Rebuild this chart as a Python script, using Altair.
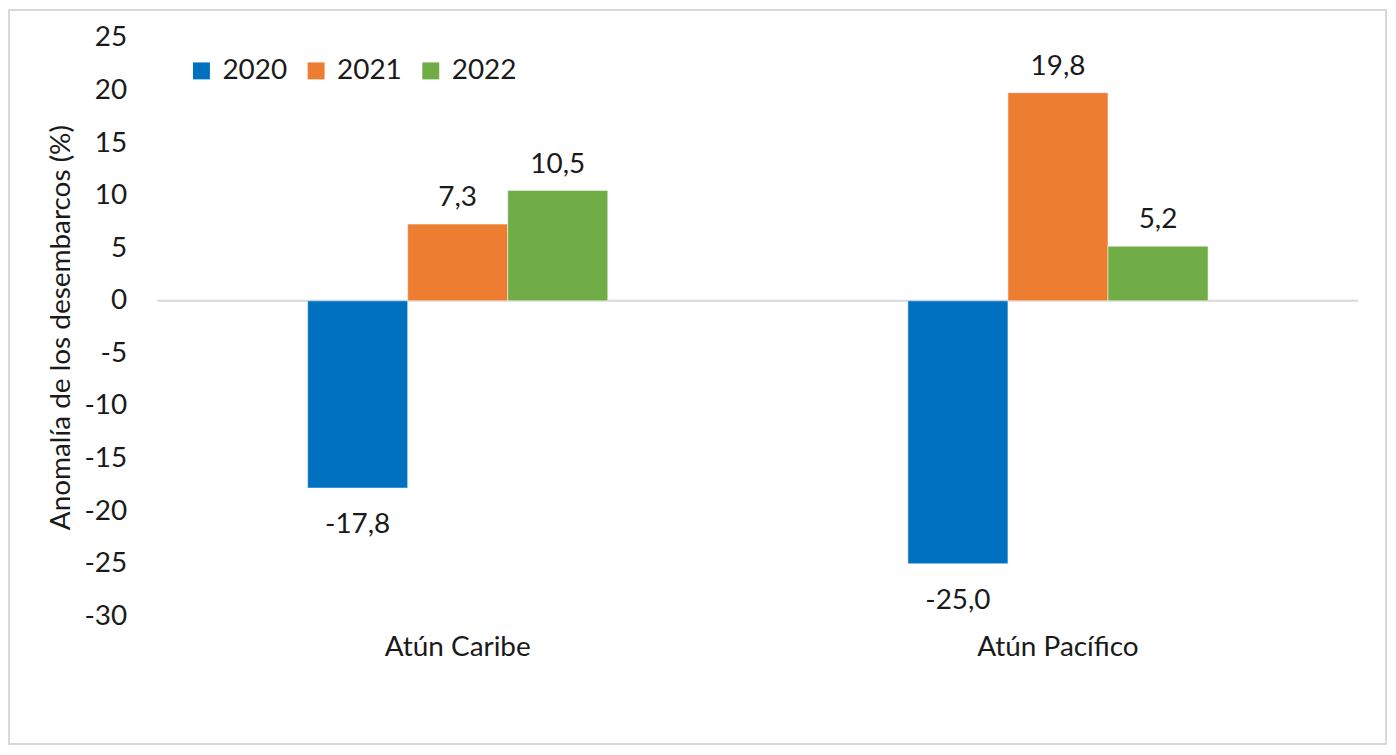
import altair as alt
import pandas as pd

categories = ["Atún Caribe", "Atún Pacífico"]
years = ["2020", "2021", "2022"]
values_2020 = [-17.8, -25.0]
values_2021 = [7.3, 19.8]
values_2022 = [10.5, 5.2]
y_ticks = [-30, -25, -20, -15, -10, -5, 0, 5, 10, 15, 20, 25]
colors = ["#0070C0", "#ED7D31", "#70AD47"]

rows = []
for yr, vals in zip(years, [values_2020, values_2021, values_2022]):
    for cat, v in zip(categories, vals):
        rows.append({"cat": cat, "year": yr, "value": v,
                     "label": f"{v:.1f}".replace(".", ",")})
df = pd.DataFrame(rows)

FONT = "Lato"
TXT = "#1a1a1a"

xenc = alt.X("cat:N", sort=categories, title=None,
             scale=alt.Scale(paddingInner=0.5, paddingOuter=0.25),
             axis=alt.Axis(labelAngle=0, labelFontSize=28, labelFont=FONT, labelColor=TXT,
                           labelPadding=17, ticks=False, domain=False))
xoff = alt.XOffset("year:N", sort=years, scale=alt.Scale(paddingInner=0, paddingOuter=0))
yenc = alt.Y("value:Q", scale=alt.Scale(domain=[-30, 25], nice=False, zero=False),
             title="Anomalía de los desembarcos (%)",
             axis=alt.Axis(values=y_ticks, labelExpr="datum.value", grid=False, ticks=False,
                           domain=False, labelFontSize=28, labelFont=FONT, labelColor=TXT,
                           labelPadding=31, titleFontSize=28, titleFont=FONT, titleColor=TXT,
                           titleFontWeight="normal", titleX=-96, titleY=290, titleAngle=-90,
                           titleAlign="center", titleBaseline="middle"))

base = alt.Chart(df)

border = alt.Chart(alt.Data(values=[{"a": 1}])).mark_rect(
    fill=None, stroke="#d9d9d9", strokeWidth=2
).encode(x=alt.value(-149), x2=alt.value(1232), y=alt.value(-28), y2=alt.value(708))

zero = alt.Chart(alt.Data(values=[{"z": 0}])).mark_rule(color="#d9d9d9", strokeWidth=2).encode(
    y=alt.Y("z:Q", scale=alt.Scale(domain=[-30, 25], nice=False, zero=False))
)

bars = base.mark_bar(stroke="white", strokeWidth=0.5).encode(
    x=xenc, xOffset=xoff, y=yenc,
    color=alt.Color("year:N", sort=years, scale=alt.Scale(domain=years, range=colors),
                    legend=alt.Legend(title=None, orient="none", legendX=30, legendY=19,
                                      direction="horizontal", symbolType="square",
                                      symbolSize=289, symbolStrokeWidth=0,
                                      labelFontSize=28, labelFont=FONT, labelColor=TXT,
                                      labelOffset=7, columnPadding=15, padding=0))
)

pos_text = base.transform_filter("datum.value >= 0").mark_text(
    baseline="alphabetic", dy=-18, fontSize=28, font=FONT, color=TXT
).encode(x=alt.X("cat:N", sort=categories), xOffset=alt.XOffset("year:N", sort=years),
         y="value:Q", text="label:N")

neg_text = base.transform_filter("datum.value < 0").mark_text(
    baseline="alphabetic", dy=45, fontSize=28, font=FONT, color=TXT
).encode(x=alt.X("cat:N", sort=categories), xOffset=alt.XOffset("year:N", sort=years),
         y="value:Q", text="label:N")

chart = alt.layer(border, zero, bars, pos_text, neg_text).properties(
    width=1204, height=580,
    background="white",
    autosize=alt.AutoSizeParams(type="none"),
    padding={"left": 150, "top": 29, "right": 30, "bottom": 130},
).configure_view(stroke=None)

chart.save("out.html", embed_options={"renderer": "svg", "actions": False})
